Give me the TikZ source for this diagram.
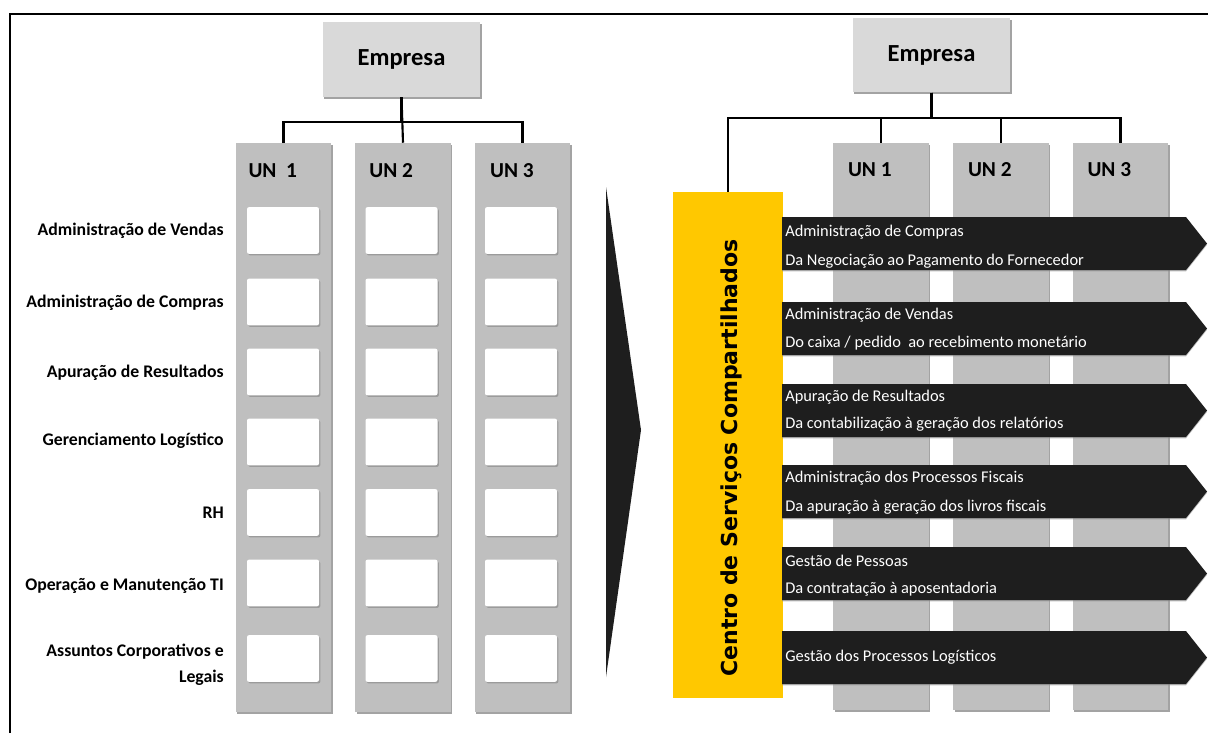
\documentclass[tikz,border=0pt]{standalone}
\usepackage{fontspec}
\setmainfont{Carlito}
\newfontfamily\cscfont{DejaVu Sans}
\usepackage{xcolor}
\definecolor{cscYellow}{HTML}{FFC800}
\definecolor{cscDark}{HTML}{1E1E1E}
\definecolor{cscColumn}{HTML}{BFBFBF}
\definecolor{cscHead}{HTML}{D9D9D9}
\definecolor{cscShadow}{HTML}{8C8C8C}
\usepackage{tikz}
\usetikzlibrary{positioning,shadows}

\begin{document}
\begin{tikzpicture}[x=0.75pt,y=-0.75pt]
  \tikzset{
    headbox/.style={
      fill=cscHead,
      minimum width=118pt,
      minimum height=56pt,
      inner sep=0pt,
      font=\bfseries\fontsize{18.4}{20}\selectfont,
      drop shadow={shadow xshift=1.2pt,shadow yshift=-1.5pt,fill=cscShadow,opacity=.8}
    },
    unicol/.style={
      fill=cscColumn,
      minimum width=71.5pt,
      inner sep=0pt,
      drop shadow={shadow xshift=1.2pt,shadow yshift=-1.5pt,fill=cscShadow,opacity=.8}
    },
    unlabel/.style={anchor=west, inner sep=0pt, font=\bfseries\fontsize{16}{18}\selectfont},
    cellbox/.style={
      fill=white,
      rounded corners=1.5pt,
      minimum width=54pt,
      minimum height=35pt,
      inner sep=0pt,
      drop shadow={shadow xshift=1pt,shadow yshift=-1.2pt,fill=cscShadow,opacity=.7}
    },
    rowlabel/.style={anchor=east, align=right, inner sep=0pt, font=\bfseries\fontsize{13.3}{19.5}\selectfont},
    orgline/.style={line width=1.6pt, black},
    darkfill/.style={fill=cscDark},
    proctext/.style={anchor=west, inner sep=0pt, text=white, font=\fontsize{12.3}{14}\selectfont}
  }
  \path[use as bounding box] (0,0) rectangle (1208,733);
  \draw[line width=1.9pt] (10,733) -- (10,14) -- (1208,14);

  \node[headbox] (empl) at (401.5,59.5) {Empresa};
  \foreach \c/\x in {1/283.5,2/403,3/522.5}
    \node[unicol,minimum height=426.75pt] (lcol\c) at (\x,427.5) {};
  \draw[orgline] (empl.south) -- ++(0,25) -| (lcol1.north);
  \draw[orgline] (empl.south) -- ++(0,25) -| (lcol3.north);
  \draw[orgline] (empl.south) -- (lcol2.north);
  \node[unlabel] (lun1) at ([xshift=9.5pt,yshift=-21pt]lcol1.north west) {UN~~1};
  \node[unlabel] (lun2) at ([xshift=10.5pt,yshift=-21pt]lcol2.north west) {UN 2};
  \node[unlabel] (lun3) at ([xshift=11.5pt,yshift=-21pt]lcol3.north west) {UN 3};

  \foreach \r/\y in {1/230.5,2/302,3/372,4/442,5/512.5,6/583,7/658.5}
    \foreach \c/\x in {1/283,2/401.5,3/521}
      \node[cellbox] (cell\c\r) at (\x,\y) {};

  \node[rowlabel] (row1) at (224,231) {Administração de Vendas};
  \node[rowlabel] (row2) at (224,303) {Administração de Compras};
  \node[rowlabel] (row3) at (224,373) {Apuração de Resultados};
  \node[rowlabel] (row4) at (224,441) {Gerenciamento Logístico};
  \node[rowlabel] (row5) at (224,513) {RH};
  \node[rowlabel] (row6) at (224,586) {Operação e Manutenção TI};
  \node[rowlabel] (row7) at (224,665) {Assuntos Corporativos e\\Legais};

  \fill[darkfill] (606,187) -- (641,430) -- (606,677) -- cycle;

  \node[headbox] (empr) at (931.5,55) {Empresa};
  \foreach \c/\x in {1/881,2/1001,3/1120.5}
    \node[unicol,minimum height=425.25pt] (rcol\c) at (\x,426.5) {};
  \node[fill=cscYellow,minimum width=82.5pt,minimum height=379.5pt,inner sep=0pt] (csc) at (728,445) {};
  \draw[orgline] (empr.south) -- ++(0,25) -| (csc.north);
  \draw[orgline] (empr.south) -- ++(0,25) -| (rcol1.north);
  \draw[orgline] (empr.south) -- ++(0,25) -| (rcol3.north);
  \draw[orgline] (empr.south) -- ++(0,25) -| (rcol2.north);
  \node[unlabel] (run1) at ([xshift=11pt,yshift=-20pt]rcol1.north west) {UN 1};
  \node[unlabel] (run2) at ([xshift=11pt,yshift=-20pt]rcol2.north west) {UN 2};
  \node[unlabel] (run3) at ([xshift=11pt,yshift=-20pt]rcol3.north west) {UN 3};

  \foreach \t in {217,302,384,465,547,631}
    \fill[darkfill,drop shadow={shadow xshift=0pt,shadow yshift=-1pt,fill=cscShadow,opacity=.6}]
      (782,\t) -- (1186,\t) -- (1207,\t+26.5) -- (1186,\t+53) -- (782,\t+53) -- cycle;

  \node[rotate=90,inner sep=0pt,font=\cscfont\bfseries\fontsize{16.5}{18}\selectfont] (csclabel) at (731,458) {Centro de Serviços Compartilhados};

  \node[proctext] (p1a) at (785,232) {Administração de Compras};
  \node[proctext] (p1b) at (785,261) {Da Negociação ao Pagamento do Fornecedor};
  \node[proctext] (p2a) at (785,315) {Administração de Vendas};
  \node[proctext] (p2b) at (785,343) {Do caixa / pedido\ \ ao recebimento monetário};
  \node[proctext] (p3a) at (785,397) {Apuração de Resultados};
  \node[proctext] (p3b) at (785,424) {Da contabilização à geração dos relatórios};
  \node[proctext] (p4a) at (785,478) {Administração dos Processos Fiscais};
  \node[proctext] (p4b) at (785,507) {Da apuração à geração dos livros fiscais};
  \node[proctext] (p5a) at (785,561) {Gestão de Pessoas};
  \node[proctext] (p5b) at (785,589) {Da contratação à aposentadoria};
  \node[proctext] (p6a) at (785,657) {Gestão dos Processos Logísticos};
\end{tikzpicture}
\end{document}
